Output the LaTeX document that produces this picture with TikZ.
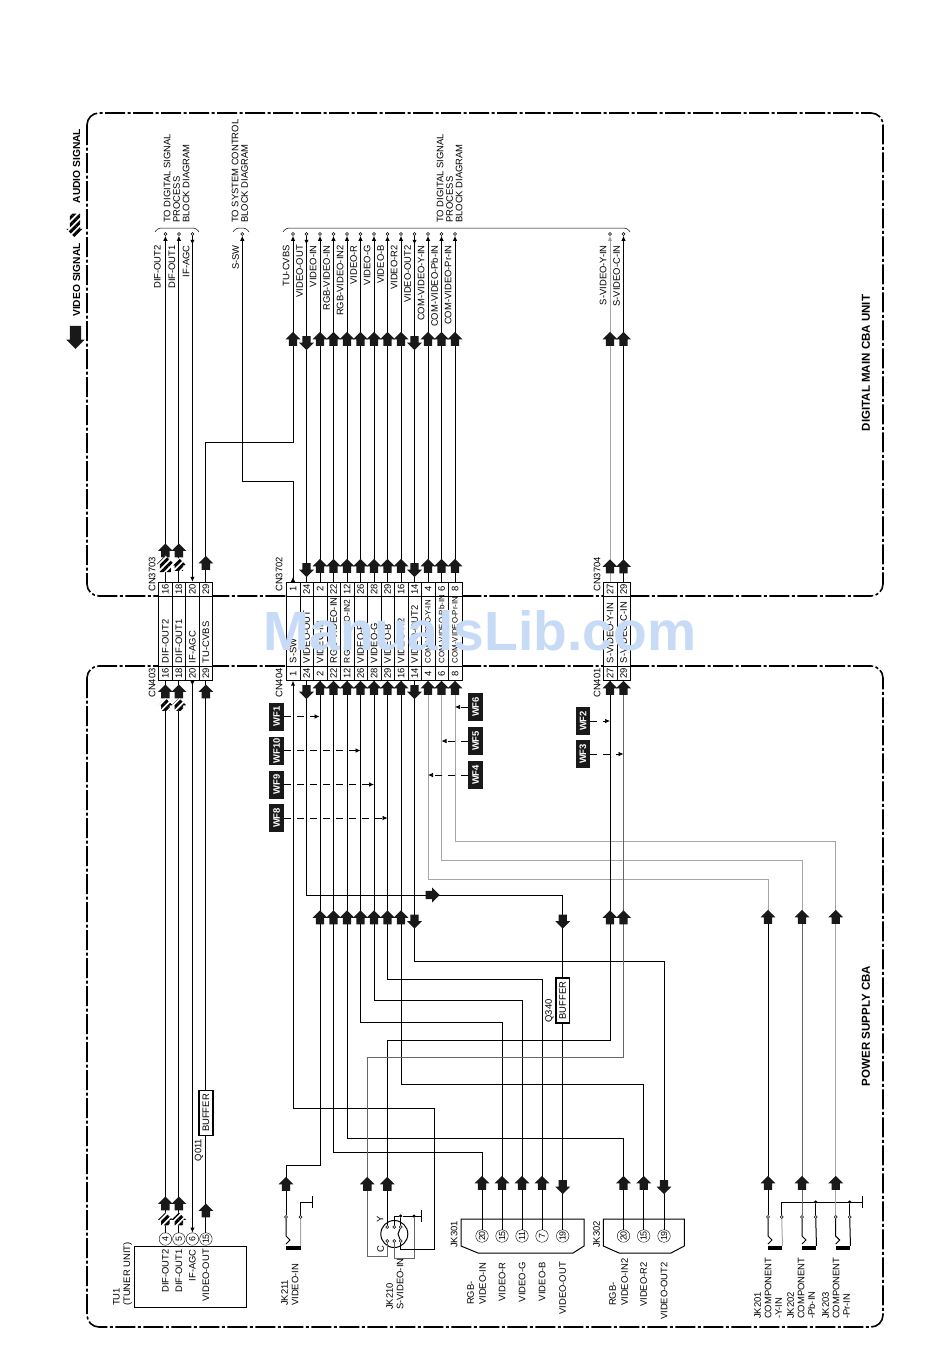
\documentclass[tikz,border=0pt]{standalone}
\usepackage{fontspec}
\setmainfont{Liberation Sans}
\usetikzlibrary{arrows.meta,shapes.arrows,patterns.meta,decorations.markings}
\definecolor{wmblue}{RGB}{199,219,246}
\newcommand{\tightcell}{\fontsize{7.8bp}{9bp}\selectfont}
\begin{document}
\begin{tikzpicture}[x=1pt,y=-1pt,>={Latex[length=5pt,width=4.5pt]},
every node/.style={inner sep=0pt,font=\fontsize{9.4bp}{10.5bp}\selectfont},
wire/.style={line width=1pt},grey/.style={wire,draw=black!35},dgrey/.style={wire,draw=black!60},
frame/.style={line width=1.6pt,rounded corners=12pt,dash pattern=on 20pt off 2.5pt on 3pt off 2.5pt},
tipat/.style={postaction={decorate},decoration={markings,mark=at position #1 with {\arrow{Latex[length=5pt,width=4.5pt]}}}},
lbl/.style={rotate=90,anchor=east},lblw/.style={rotate=90,anchor=west},
lbls/.style={rotate=90,anchor=north west,align=left},
head/.style={rotate=90,font=\bfseries\fontsize{11.5bp}{13bp}\selectfont},
numcell/.style={rotate=90,draw,fill=white,minimum width=14pt,minimum height=13.5pt},
midcell/.style={rotate=90,draw,fill=white,text width=63pt,inner xsep=4pt,minimum height=13.5pt,align=left},
term/.style={circle,draw,fill=white,minimum size=3pt,line width=.5pt},
dot/.style={circle,fill=black,minimum size=3.5pt},
jkc/.style={circle,draw,rotate=90,minimum size=12.5pt,fill=white,font=\fontsize{8.8bp}{10bp}\selectfont},
wf/.style={rotate=90,fill=black!90,text=white,minimum width=28pt,minimum height=14.5pt,font=\bfseries\fontsize{9.4bp}{10.5bp}\selectfont},
buf/.style={rotate=90,draw,line width=1.8pt,fill=white,minimum width=45pt,minimum height=13.5pt},
jbar/.style={fill=black,minimum width=14.5pt,minimum height=4pt},
bigar/.style={single arrow,fill=black!90,text width=8pt,text height=4pt,text depth=4pt,minimum height=14pt,single arrow head extend=3.2pt,single arrow tip angle=90},
upar/.style={bigar,shape border rotate=90},dnar/.style={bigar,shape border rotate=270},rtar/.style={bigar},
hatar/.style={upar,fill=none,preaction={fill=white},pattern={Lines[angle=45,distance=5pt,line width=3pt]},pattern color=black}]
\useasboundingbox (0,0) rectangle (950,1370);
\draw[frame] (87,113) rectangle (883,596);
\draw[frame] (87,666) rectangle (883,1327);
% connector CN3703 / CN403
\node[numcell] (ua1) at (165.4,589) {16};\node[midcell] (ma1) at (165.4,631.5) {DIF-OUT2};\node[numcell] (la1) at (165.4,673.5) {16};
\node[numcell] (ua2) at (178.9,589) {18};\node[midcell] (ma2) at (178.9,631.5) {DIF-OUT1};\node[numcell] (la2) at (178.9,673.5) {18};
\node[numcell] (ua3) at (192.4,589) {20};\node[midcell] (ma3) at (192.4,631.5) {IF-AGC};\node[numcell] (la3) at (192.4,673.5) {20};
\node[numcell] (ua4) at (205.9,589) {29};\node[midcell] (ma4) at (205.9,631.5) {TU-CVBS};\node[numcell] (la4) at (205.9,673.5) {29};
% connector CN3702 / CN404
\node[numcell] (ub1) at (293,589) {1};\node[midcell] (mb1) at (293,631.5) {S-SW};\node[numcell] (lb1) at (293,673.5) {1};
\node[numcell] (ub2) at (306.5,589) {24};\node[midcell] (mb2) at (306.5,631.5) {VIDEO-OUT};\node[numcell] (lb2) at (306.5,673.5) {24};
\node[numcell] (ub3) at (320,589) {2};\node[midcell] (mb3) at (320,631.5) {VIDEO-IN};\node[numcell] (lb3) at (320,673.5) {2};
\node[numcell] (ub4) at (333.5,589) {22};\node[midcell] (mb4) at (333.5,631.5) {\mbox{RGB-VIDEO-IN}};\node[numcell] (lb4) at (333.5,673.5) {22};
\node[numcell] (ub5) at (347,589) {12};\node[midcell] (mb5) at (347,631.5) {\mbox{\fontsize{8.4bp}{9bp}\selectfont RGB-VIDEO-IN2}};\node[numcell] (lb5) at (347,673.5) {12};
\node[numcell] (ub6) at (360.5,589) {26};\node[midcell] (mb6) at (360.5,631.5) {VIDEO-R};\node[numcell] (lb6) at (360.5,673.5) {26};
\node[numcell] (ub7) at (374,589) {28};\node[midcell] (mb7) at (374,631.5) {VIDEO-G};\node[numcell] (lb7) at (374,673.5) {28};
\node[numcell] (ub8) at (387.5,589) {29};\node[midcell] (mb8) at (387.5,631.5) {VIDEO-B};\node[numcell] (lb8) at (387.5,673.5) {29};
\node[numcell] (ub9) at (401,589) {16};\node[midcell] (mb9) at (401,631.5) {VIDEO-R2};\node[numcell] (lb9) at (401,673.5) {16};
\node[numcell] (ub10) at (414.5,589) {14};\node[midcell] (mb10) at (414.5,631.5) {VIDEO-OUT2};\node[numcell] (lb10) at (414.5,673.5) {14};
\node[numcell] (ub11) at (428,589) {4};\node[midcell] (mb11) at (428,631.5) {\mbox{\tightcell COM-VIDEO-Y-IN}};\node[numcell] (lb11) at (428,673.5) {4};
\node[numcell] (ub12) at (441.5,589) {6};\node[midcell] (mb12) at (441.5,631.5) {\mbox{\tightcell COM-VIDEO-Pb-IN}};\node[numcell] (lb12) at (441.5,673.5) {6};
\node[numcell] (ub13) at (455,589) {8};\node[midcell] (mb13) at (455,631.5) {\mbox{\tightcell COM-VIDEO-Pr-IN}};\node[numcell] (lb13) at (455,673.5) {8};
% connector CN3704 / CN401
\node[numcell] (uc1) at (610,589) {27};\node[midcell] (mc1) at (610,631.5) {\mbox{S-VIDEO-Y-IN}};\node[numcell] (lc1) at (610,673.5) {27};
\node[numcell] (uc2) at (623.5,589) {29};\node[midcell] (mc2) at (623.5,631.5) {\mbox{S-VIDEO-C-IN}};\node[numcell] (lc2) at (623.5,673.5) {29};
\node[lblw] (cn1) at (152,592) {CN3703};\node[lblw] (cn2) at (152,698) {CN403};\node[lblw] (cn3) at (279,592) {CN3702};
\node[lblw] (cn4) at (279,698) {CN404};\node[lblw] (cn5) at (597,592) {CN3704};\node[lblw] (cn6) at (597,698) {CN401};
% top terminals and names
\node[term] (ta1) at (165.4,234) {};\node[term] (ta2) at (178.9,234) {};\node[term] (ta3) at (192.4,234) {};\node[term] (ts) at (242.3,234) {};
\node[term] (tb1) at (293,234) {};\node[term] (tb2) at (306.5,234) {};\node[term] (tb3) at (320,234) {};\node[term] (tb4) at (333.5,234) {};
\node[term] (tb5) at (347,234) {};\node[term] (tb6) at (360.5,234) {};\node[term] (tb7) at (374,234) {};\node[term] (tb8) at (387.5,234) {};
\node[term] (tb9) at (401,234) {};\node[term] (tb10) at (414.5,234) {};\node[term] (tb11) at (428,234) {};\node[term] (tb12) at (441.5,234) {};
\node[term] (tb13) at (455,234) {};\node[term] (tc1) at (610,234) {};\node[term] (tc2) at (623.5,234) {};
\node[lbl] (na1) at (157.5,245) {DIF-OUT2};\node[lbl] (na2) at (172,245) {DIF-OUT1};\node[lbl] (na3) at (186,245) {IF-AGC};\node[lbl] (ns) at (235.5,245) {S-SW};
\node[lbl] (nb1) at (286,245) {TU-CVBS};\node[lbl] (nb2) at (299.5,245) {VIDEO-OUT};\node[lbl] (nb3) at (313,245) {VIDEO-IN};\node[lbl] (nb4) at (326.5,245) {RGB-VIDEO-IN};
\node[lbl] (nb5) at (340,245) {RGB-VIDEO-IN2};\node[lbl] (nb6) at (353.5,245) {VIDEO-R};\node[lbl] (nb7) at (367,245) {VIDEO-G};\node[lbl] (nb8) at (380.5,245) {VIDEO-B};
\node[lbl] (nb9) at (394,245) {VIDEO-R2};\node[lbl] (nb10) at (407.5,245) {VIDEO-OUT2};\node[lbl] (nb11) at (421,245) {COM-VIDEO-Y-IN};\node[lbl] (nb12) at (434.5,245) {COM-VIDEO-Pb-IN};
\node[lbl] (nb13) at (448,245) {COM-VIDEO-Pr-IN};\node[lbl] (nc1) at (603,245) {S-VIDEO-Y-IN};\node[lbl] (nc2) at (616.5,245) {S-VIDEO-C-IN};
\node[lbls] (to1) at (163.5,223) {TO DIGITAL SIGNAL\\[-1pt]PROCESS\\[-1pt]BLOCK DIAGRAM};
\node[lbls] (to2) at (231.5,223) {TO SYSTEM CONTROL\\[-1pt]BLOCK DIAGRAM};
\node[lbls] (to3) at (436.5,223) {TO DIGITAL SIGNAL\\[-1pt]PROCESS\\[-1pt]BLOCK DIAGRAM};
\draw[rounded corners=3pt,line width=.5pt] (155,232)--(158,228)--(196,228)--(199,232);
\draw[rounded corners=3pt,line width=.5pt] (233,232)--(236,228)--(246,228)--(249,232);
\draw[rounded corners=3pt,line width=.5pt] (283,232)--(286,228)--(627,228)--(630,232);
% tuner, buffers
\node[draw,minimum width=112pt,minimum height=61pt] (tu) at (190.3,1276.5) {};
\node[jkc] (ca) at (165.4,1239) {4};\node[jkc] (cb) at (178.9,1239) {5};\node[jkc] (cc) at (192.4,1239) {6};\node[jkc] (cd) at (205.9,1239) {15};
\node[lbl] (ta) at (165.4,1249) {DIF-OUT2};\node[lbl] (tb) at (178.9,1249) {DIF-OUT1};\node[lbl] (tcc) at (192.4,1249) {IF-AGC};\node[lbl] (td) at (205.9,1249) {VIDEO-OUT};
\node[lbls] (tun) at (113,1306) {TU1\\(TUNER UNIT)};
\node[buf] (bu1) at (205.9,1113) {BUFFER};\node[lbl,anchor=center] (qa) at (199,1150) {Q011};
\node[buf] (bu2) at (562.7,1000.5) {BUFFER};\node[lbl,anchor=center] (qb) at (549.5,1011) {Q340};
% jacks
\node[term] (j1a) at (286,1217) {};\node[term] (j1b) at (300.5,1217) {};\node[jbar] (j1c) at (293.3,1248) {};
\node[lbls] (j1t) at (281,1306) {JK211\\VIDEO-IN};
\coordinate (g1) at (313,1202);
\draw[grey] (j1b)--(j1c.north east);\draw[wire,-{Bar[width=12pt,length=.5pt]}] (j1b)|-(g1);
\draw[wire] (j1a)--++(0,19)--++(4,4)--++(-4,4);
\draw[wire] (394.3,1234) circle (13.5);
\node[term] (p1) at (387.3,1227) {};\node[term] (p2) at (394.3,1227) {};\node[term] (p3) at (400.7,1227) {};
\node[term] (p4) at (387.3,1241) {};\node[term] (p5) at (394.3,1241) {};\node[term] (p6) at (400.7,1241) {};
\node[dot] (d1) at (400.7,1216) {};\node[dot] (d2) at (414,1216) {};\coordinate (g2) at (421.7,1216);
\node[lbl,anchor=center] (ly) at (380,1219) {Y};\node[lbl,anchor=center] (lcc) at (380.5,1249) {C};
\node[lbls] (j2t) at (386,1310) {JK210\\S-VIDEO-IN};
\draw[wire] (p2)|-(d1);\draw[wire,-{Bar[width=12pt,length=.5pt]}] (d1)--(g2);\draw[wire] (d1)--(p3);\draw[wire] (p3)--(398,1234)--(p6);
\coordinate (k1) at (414,1258);\draw[dgrey] (d2)--(k1)-|(p5);
\node[lbls] (j3l) at (450.5,1248) {JK301};\node[lbls] (j4l) at (593,1248) {JK302};
\draw[wire,fill=white] (461,1219)--(461,1246)--(478,1253)--(573,1253)--(584,1246)--(584,1219)--cycle;
\draw[wire,fill=white] (603.3,1219)--(603.3,1246)--(619,1253)--(671,1253)--(684.3,1246)--(684.3,1219)--cycle;
\node[jkc] (s1) at (482,1236) {20};\node[jkc] (s2) at (502,1236) {15};\node[jkc] (s3) at (522,1236) {11};\node[jkc] (s4) at (542,1236) {7};\node[jkc] (s5) at (562.7,1236) {19};
\node[jkc] (r1) at (623.5,1236) {20};\node[jkc] (r2) at (643.7,1236) {15};\node[jkc] (r3) at (664,1236) {19};
\node[lbls] (s1t) at (467,1305) {RGB-\\[1.5pt]VIDEO-IN};\node[lbl] (s2t) at (502,1262) {VIDEO-R};\node[lbl] (s3t) at (522,1262) {VIDEO-G};\node[lbl] (s4t) at (542,1262) {VIDEO-B};\node[lbl] (s5t) at (562.7,1262) {VIDEO-OUT};
\node[lbls] (r1t) at (609,1306) {RGB-\\[1.5pt]VIDEO-IN2};\node[lbl] (r2t) at (643.7,1262) {VIDEO-R2};\node[lbl] (r3t) at (664,1262) {VIDEO-OUT2};
% component jacks
\node[term] (y1) at (768,1217) {};\node[term] (y2) at (781.7,1217) {};\node[jbar] (yb) at (775,1248) {};
\node[term] (b1) at (802,1217) {};\node[term] (b2) at (815.7,1217) {};\node[jbar] (bb) at (809,1248) {};
\node[term] (w1) at (835.7,1217) {};\node[term] (w2) at (849.7,1217) {};\node[jbar] (wb) at (843,1248) {};
\node[dot] (d3) at (815.7,1202) {};\node[dot] (d4) at (849.7,1202) {};\coordinate (g3) at (862.7,1202);
\draw[wire,-{Bar[width=12pt,length=.5pt]}] (y2)|-(g3);\draw[wire] (d3)--(b2);\draw[wire] (d4)--(w2);
\draw[grey] (y2)--(yb.north east);\draw[wire] (b2)--(bb.north east);\draw[wire] (w2)--(wb.north east);
\draw[wire] (y1)--++(0,19)--++(4,4)--++(-4,4);\draw[wire] (b1)--++(0,19)--++(4,4)--++(-4,4);\draw[wire] (w1)--++(0,19)--++(4,4)--++(-4,4);
\node[lbls] (y1t) at (754,1319) {JK201\\COMPONENT\\-Y-IN};\node[lbls] (b1t) at (787,1319) {JK202\\COMPONENT\\-Pb-IN};\node[lbls] (w1t) at (822,1319) {JK203\\COMPONENT\\-Pr-IN};
% upper unit wires
\draw[wire,->] (ua1.east)--(ta1);\draw[wire,->] (ua2.east)--(ta2);\draw[wire,tipat=9pt,->] (ta3)--(ua3.east);
\coordinate (e1) at (205.9,442);\coordinate (e2) at (293,442);\coordinate (e3) at (293,481.5);\coordinate (e4) at (242.3,481.5);
\draw[wire,->] (ua4.east)--(e1)--(e2)--(tb1);\draw[wire,tipat=5pt,->] (ub1.east)--(e3)--(e4)--(ts);
\draw[wire,tipat=9pt] (tb2)--(ub2.east);\draw[wire,->] (ub3.east)--(tb3);\draw[wire,->] (ub4.east)--(tb4);\draw[wire,->] (ub5.east)--(tb5);
\draw[wire,->] (ub6.east)--(tb6);\draw[wire,->] (ub7.east)--(tb7);\draw[wire,->] (ub8.east)--(tb8);\draw[wire,->] (ub9.east)--(tb9);
\draw[wire,tipat=9pt] (tb10)--(ub10.east);\draw[wire,->] (ub11.east)--(tb11);\draw[wire,->] (ub12.east)--(tb12);\draw[wire,->] (ub13.east)--(tb13);
\draw[grey,->] (uc1.east)--(tc1);\draw[wire,->] (uc2.east)--(tc2);
% power supply wires
\draw[wire] (la1.west)--(ca.east);\draw[wire] (la2.west)--(cb.east);\draw[wire,tipat=5pt,->] (la3.west)--(cc.east);
\draw[wire] (la4.west)--(bu1.east);\draw[wire] (bu1.west)--(cd.east);
\coordinate (f1) at (293,1108);\coordinate (f2) at (434,1108);\coordinate (f3) at (434,1249.5);
\draw[wire,->] (p6)|-(f3)--(f2)--(f1)--(lb1.west);
\coordinate (f4) at (306.5,895);\coordinate (f5) at (562.7,895);
\draw[wire] (lb2.west)--(f4)--(f5)--(bu2.east);\draw[wire] (bu2.west)--(s5.east);
\coordinate (f6) at (320,1165);\coordinate (f7) at (286,1165);\draw[wire] (lb3.west)--(f6)--(f7)--(j1a);
\coordinate (f8) at (333.5,1152.5);\draw[wire] (lb4.west)--(f8)-|(s1.east);
\coordinate (f9) at (347,1138.5);\draw[wire] (lb5.west)--(f9)-|(r1.east);
\coordinate (f10) at (360.5,1022.5);\draw[wire] (lb6.west)--(f10)-|(s2.east);
\coordinate (f11) at (374,1000.5);\draw[wire] (lb7.west)--(f11)-|(s3.east);
\coordinate (f12) at (387.5,979);\draw[wire] (lb8.west)--(f12)-|(s4.east);
\coordinate (f13) at (401,1084);\draw[wire] (lb9.west)--(f13)-|(r2.east);
\coordinate (f14) at (414.5,961);\draw[wire] (lb10.west)--(f14)-|(r3.east);
\coordinate (f15) at (428,879);\coordinate (f16) at (768,919);\draw[grey] (lb11.west)--(f15)-|(f16);\draw[wire] (f16)--(y1);
\coordinate (f17) at (441.5,860);\coordinate (f18) at (802,919);\draw[grey] (lb12.west)--(f17)-|(f18);\draw[dgrey] (f18)--(b1);
\coordinate (f19) at (455,841);\coordinate (f20) at (835.7,919);\draw[grey] (lb13.west)--(f19)-|(f20);\draw[grey] (f20)--(w1);
\coordinate (f21) at (610,1040);\coordinate (f22) at (387.3,1040);\draw[wire] (lc1.west)--(f21)--(f22)--(p1);
\coordinate (f23) at (623.5,1057);\coordinate (f24) at (367.3,1057);\coordinate (f25) at (367.3,1256);
\draw[dgrey] (lc2.west)--(f23)--(f24)--(f25)-|(p4);
% big arrows
\node[upar] (ar1) at (293,341) {};\node[dnar] (ar2) at (306.5,341) {};\node[upar] (ar3) at (320,341) {};\node[upar] (ar4) at (333.5,341) {};\node[upar] (ar5) at (347,341) {};
\node[upar] (ar6) at (360.5,341) {};\node[upar] (ar7) at (374,341) {};\node[upar] (ar8) at (387.5,341) {};\node[upar] (ar9) at (401,341) {};\node[dnar] (ar10) at (414.5,341) {};
\node[upar] (ar11) at (428,341) {};\node[upar] (ar12) at (441.5,341) {};\node[upar] (ar13) at (455,341) {};\node[upar] (ar14) at (610,341) {};\node[upar] (ar15) at (623.5,341) {};
\node[dnar] (as2) at (306.5,568) {};\node[upar] (as3) at (320,568) {};\node[upar] (as4) at (333.5,568) {};\node[upar] (as5) at (347,568) {};\node[upar] (as6) at (360.5,568) {};
\node[upar] (as7) at (374,568) {};\node[upar] (as8) at (387.5,568) {};\node[upar] (as9) at (401,568) {};\node[dnar] (as10) at (414.5,568) {};\node[upar] (as11) at (428,568) {};
\node[upar] (as12) at (441.5,568) {};\node[upar] (as13) at (455,568) {};\node[upar] (as14) at (610,568.5) {};\node[upar] (as15) at (623.5,568.5) {};
\node[dnar] (at2) at (306.5,690) {};\node[upar] (at3) at (320,690) {};\node[upar] (at4) at (333.5,690) {};\node[upar] (at5) at (347,690) {};\node[upar] (at6) at (360.5,690) {};
\node[upar] (at7) at (374,690) {};\node[upar] (at8) at (387.5,690) {};\node[upar] (at9) at (401,690) {};\node[dnar] (at10) at (414.5,690) {};\node[upar] (at11) at (428,690) {};
\node[upar] (at12) at (441.5,690) {};\node[upar] (at13) at (455,690) {};\node[upar] (at14) at (610,690) {};\node[upar] (at15) at (623.5,690) {};
\node[upar] (au1) at (165.4,552.5) {};\node[upar] (au2) at (178.9,552.5) {};\node[hatar,minimum height=13pt] (av1) at (165.4,566.5) {};\node[hatar,minimum height=13pt] (av2) at (178.9,566.5) {};\node[upar] (au3) at (205.9,565) {};
\node[upar] (aw1) at (165.4,693.5) {};\node[upar] (aw2) at (178.9,693.5) {};\node[hatar,minimum height=13pt] (ax1) at (165.4,706.5) {};\node[hatar,minimum height=13pt] (ax2) at (178.9,706.5) {};\node[upar] (aw3) at (205.9,693.5) {};
\node[upar] (ay1) at (165.4,1205.5) {};\node[upar] (ay2) at (178.9,1205.5) {};\node[hatar,minimum height=13pt] (az1) at (165.4,1221) {};\node[hatar,minimum height=13pt] (az2) at (178.9,1221) {};\node[upar] (ay3) at (205.9,1212.5) {};
\node[rtar] (ah1) at (430.5,895) {};\node[dnar] (ah2) at (562.7,919.5) {};
\node[upar] (ai3) at (320,919.5) {};\node[upar] (ai4) at (333.5,919.5) {};\node[upar] (ai5) at (347,919.5) {};\node[upar] (ai6) at (360.5,919.5) {};\node[upar] (ai7) at (374,919.5) {};
\node[upar] (ai8) at (387.5,919.5) {};\node[upar] (ai9) at (401,919.5) {};\node[dnar] (ai10) at (414.5,919.5) {};\node[upar] (ai11) at (610,919.5) {};\node[upar] (ai12) at (623.5,919.5) {};
\node[upar] (ai13) at (768,919) {};\node[upar] (ai14) at (802,919) {};\node[upar] (ai15) at (835.7,919) {};
\node[upar] (aj1) at (286,1186) {};\node[upar] (aj2) at (367.3,1186) {};\node[upar] (aj3) at (387.3,1186) {};\node[upar] (aj4) at (482,1185) {};\node[upar] (aj5) at (502,1185) {};
\node[upar] (aj6) at (522,1185) {};\node[upar] (aj7) at (542,1185) {};\node[dnar] (aj8) at (562.7,1185) {};\node[upar] (aj9) at (623.5,1185) {};\node[upar] (aj10) at (643.7,1185) {};
\node[dnar] (aj11) at (664,1185) {};\node[upar] (aj12) at (768,1185) {};\node[upar] (aj13) at (802,1185) {};\node[upar] (aj14) at (835.7,1185) {};
% waveform tags
\tikzset{wfline/.style={line width=.7pt,dash pattern=on 7pt off 6pt,->}}
\node[wf] (wf1) at (276.7,716.5) {WF1};\node[wf] (wf10) at (276.7,750.5) {WF10};\node[wf] (wf9) at (276.7,784.5) {WF9};\node[wf] (wf8) at (276.7,818) {WF8};
\node[wf] (wf6) at (475.7,707) {WF6};\node[wf] (wf5) at (475.7,741) {WF5};\node[wf] (wf4) at (475.7,775) {WF4};\node[wf] (wf2) at (583,721) {WF2};\node[wf] (wf3) at (583,754) {WF3};
\coordinate (h1) at (319.5,716.5);\coordinate (h2) at (360.5,750.5);\coordinate (h3) at (374,784.5);\coordinate (h4) at (387.5,818);\coordinate (h5) at (455,707);\coordinate (h6) at (441.5,741);\coordinate (h7) at (428,775);\coordinate (h8) at (610,721);\coordinate (h9) at (623.5,754);
\draw[wfline] (wf1)--(h1);\draw[wfline] (wf10)--(h2);\draw[wfline] (wf9)--(h3);\draw[wfline] (wf8)--(h4);\draw[wfline] (wf6)--(h5);\draw[wfline] (wf5)--(h6);\draw[wfline] (wf4)--(h7);\draw[wfline] (wf2)--(h8);\draw[wfline] (wf3)--(h9);
% legend and unit names
\node[rotate=90,font=\bfseries\fontsize{10.2bp}{12bp}\selectfont] (lv) at (76.7,280) {VIDEO SIGNAL};\node[rotate=90,font=\bfseries\fontsize{10.2bp}{12bp}\selectfont] (la) at (76.7,166) {AUDIO SIGNAL};
\node[dnar,text width=11pt,text height=5.5pt,text depth=5.5pt,minimum height=23pt,single arrow head extend=3.5pt] (lg1) at (75.5,334.5) {};
\node[hatar,shape border rotate=270,text width=10pt,text height=5pt,text depth=5pt,minimum height=24pt,single arrow head extend=3.5pt] (lg2) at (75,223) {};
\node[head] (un1) at (866,363) {DIGITAL MAIN CBA UNIT};\node[head] (un2) at (866,1026) {POWER SUPPLY CBA};
\node[text=wmblue,font=\bfseries\fontsize{55bp}{60bp}\selectfont] (wm) at (480,631) {ManualsLib.com};
\end{tikzpicture}
\end{document}
